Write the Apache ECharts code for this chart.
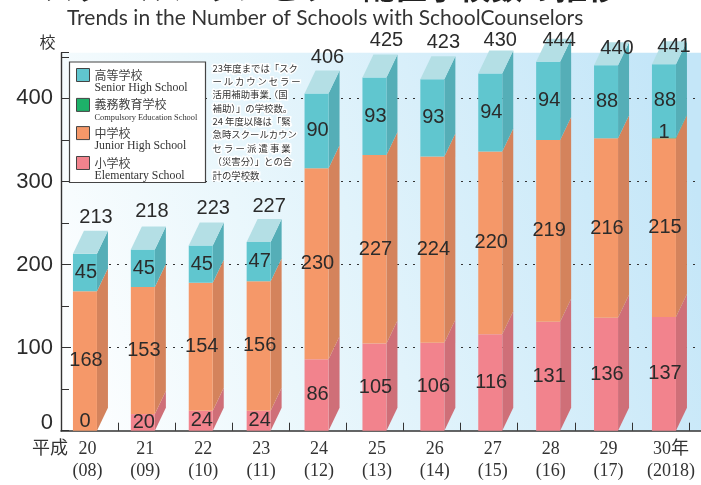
<!DOCTYPE html>
<html><head><meta charset="utf-8">
<style>html,body{margin:0;padding:0;background:#fff}#c{width:701px;height:485px}</style>
<script src="https://cdn.jsdelivr.net/npm/echarts@6/dist/echarts.min.js"></script>
</head><body><div id="c"></div>
<script>
const categories = ['20\n(08)','21\n(09)','22\n(10)','23\n(11)','24\n(12)','25\n(13)','26\n(14)','27\n(15)','28\n(16)','29\n(17)','30年\n(2018)'];
const elementary = [0,20,24,24,86,105,106,116,131,136,137];
const junior = [168,153,154,156,230,227,224,220,219,216,215];
const compulsory = [0,0,0,0,0,0,0,0,0,0,1];
const senior = [45,45,45,47,90,93,93,94,94,88,88];
const totals = [213,218,223,227,406,425,423,430,444,440,441];
const totalLift = [36,38,37,36,36,37,37,33,21,17,18];
const totalShift = [11,9,12.5,10.5,11,12,11,10,11,11,10];
const yMax = 455;
const depthX = 11, depthY = 23, barW = 24;
const FS = '"Liberation Sans",Arial,sans-serif';
const CJK = '"Noto Sans CJK JP",sans-serif';
const SERIF = '"Liberation Serif","Noto Sans CJK JP",serif';
const TXT = '#2b2b2b';

const stacks = [
 {name:'小学校', en:'Elementary School', vals:elementary, front:'#F2838D', side:'#CF6F78', zero:true},
 {name:'中学校', en:'Junior High School', vals:junior, front:'#F59869', side:'#D4835C'},
 {name:'義務教育学校', en:'Compulsory Education School', vals:compulsory, front:'#1DB169', side:'#179058', small:true},
 {name:'高等学校', en:'Senior High School', vals:senior, front:'#60C6CF', side:'#55AEB7', top:'#B4DFE5'}
];

function baseOf(si,i){let b=0;for(let k=0;k<si;k++)b+=stacks[k].vals[i];return b;}

function render(si){
  const st = stacks[si];
  return function(params, api){
    const i = api.value(0), v = api.value(1), b = baseOf(si,i);
    const c0 = api.coord([i,b]), c1 = api.coord([i,b+v]);
    const x0 = c0[0]-barW/2, x1 = c0[0]+barW/2;
    const kids = [];
    if(v>0){
      kids.push({type:'polygon',shape:{points:[[x1,c0[1]],[x1+depthX,c0[1]-depthY],[x1+depthX,c1[1]-depthY],[x1,c1[1]]]},style:{fill:st.side}});
      kids.push({type:'rect',shape:{x:x0,y:c1[1],width:barW,height:c0[1]-c1[1]},style:{fill:st.front}});
      if(st.top) kids.push({type:'polygon',shape:{points:[[x0,c1[1]],[x1,c1[1]],[x1+depthX,c1[1]-depthY],[x0+depthX,c1[1]-depthY]]},style:{fill:st.top}});
    }
    return {type:'group',children:kids};
  };
}

function renderLabels(params, api){
  const i = api.value(0), kids = [];
  const text = (x,y,t)=>({type:'text',style:{x:x,y:y,text:String(t),textAlign:'center',textVerticalAlign:'middle',fontFamily:FS,fontSize:20,fill:TXT}});
  stacks.forEach((st,si)=>{
    const v = st.vals[i], b = baseOf(si,i);
    if(v>0||st.zero){
      const c0 = api.coord([i,b]), c1 = api.coord([i,b+v]);
      const lift = v===0?9:(v===1?5:0);
      kids.push(text(c0[0]+(v<10?0:1),(c0[1]+c1[1])/2-lift,v));
    }
  });
  const t = api.coord([i,totals[i]]);
  kids.push(text(t[0]+totalShift[i],t[1]-totalLift[i],totals[i]));
  return {type:'group',children:kids};
}

const series = stacks.map((st,si)=>({
  type:'custom', name:st.name, coordinateSystem:'cartesian2d', xAxisIndex:0, yAxisIndex:0, z:2+si,
  itemStyle:{color:st.front}, encode:{x:0,y:1}, clip:false,
  renderItem:render(si), data:st.vals.map((v,i)=>[i,v])
}));
series.push({type:'custom',name:'labels',coordinateSystem:'cartesian2d',xAxisIndex:0,yAxisIndex:0,z:8,clip:false,silent:true,
  encode:{x:0,y:1},renderItem:renderLabels,data:totals.map((v,i)=>[i,v])});

const noteLines = ['23年度までは「スク','ー\u2009ル\u2009カ\u2009ウ\u2009ン\u2009セ\u2009ラ\u2009ー','活用補助事業（国','補助）」の学校数。','24 年度以降は「緊','急時スクールカウン','セ ラ ー 派 遣 事 業','（災害分）」との合','計の学校数'];
const titleJa = 'スクールカウンセラー配置学校数の推移';
const titleEn = 'Trends in the Number of Schools with SchoolCounselors';

const option = {
  animation:false,
  backgroundColor:'#fff',
  grid:[
    {left:56,width:636.9,top:52.7,bottom:54.3,show:false},
    {left:61,right:0,top:52.7,bottom:54.3,show:true,borderWidth:0,
     backgroundColor:new echarts.graphic.LinearGradient(0,1,1,0.4,[{offset:0,color:'#FFFFFF'},{offset:0.35,color:'#EAF7FC'},{offset:1,color:'#C4E6F8'}])}
  ],
  xAxis:[
    {type:'category',gridIndex:0,data:categories,axisLine:{show:false},axisTick:{show:false},
     axisLabel:{interval:0,margin:8,lineHeight:22,fontFamily:SERIF,fontSize:18,color:'#333',
       formatter:(v,i)=> { const p=v.split('\n'); const s=i===10?'l':'m'; return '{'+s+'|'+p[0]+'}\n{'+s+'|'+p[1]+'}'; },
       rich:{l:{fontFamily:SERIF,fontSize:18,color:'#333',lineHeight:22,padding:[0,0,0,14]},
             m:{fontFamily:SERIF,fontSize:18,color:'#333',lineHeight:22,padding:[0,0,0,5]}}}},
    {type:'value',gridIndex:1,min:0,max:11.21,interval:1,axisLine:{show:true,lineStyle:{color:'#333',width:1.6}},
     axisTick:{show:true,inside:true,length:8,lineStyle:{color:'#333',width:1}},axisLabel:{show:false},splitLine:{show:false}}
  ],
  yAxis:[
    {type:'value',gridIndex:0,min:0,max:yMax,show:false},
    {type:'value',gridIndex:1,min:0,max:yMax,interval:100,
     name:'校',nameLocation:'end',nameGap:3,nameTextStyle:{fontFamily:CJK,fontSize:16,color:'#333',padding:[0,27,0,0]},
     axisLine:{show:true,lineStyle:{color:'#333',width:1.4}},
     axisTick:{show:true,inside:true,length:8,lineStyle:{color:'#333',width:1}},
     minorTick:{show:true,splitNumber:2,length:8,lineStyle:{color:'#333',width:1}},
     axisLabel:{margin:8,fontFamily:FS,fontSize:22,color:TXT,showMaxLabel:false,
       formatter:v=> v===0 ? '{z|0}' : (v%100===0?String(v):''),
       rich:{z:{fontFamily:FS,fontSize:22,color:TXT,padding:[0,0,15,0]}}},
     splitLine:{show:true,showMinLine:false,showMaxLine:false,lineStyle:{color:'#333',width:1,type:[2,6]}}}
  ],
  legend:{
    show:true,orient:'vertical',left:76,top:56,padding:0,itemWidth:13,itemHeight:13,itemGap:-8,z:6,itemGap:-8,
    icon:'rect',selectedMode:false,
    data:[3,2,1,0].map(k=>({name:stacks[k].name,itemStyle:{color:stacks[k].front,borderColor:'#444',borderWidth:1}})),
    formatter:name=>{const s=stacks.find(t=>t.name===name);return '{e| }\n{a|'+s.name+'}\n'+(s.small?'{c|':'{b|')+s.en+'}';},
    textStyle:{rich:{
      e:{fontSize:6,lineHeight:12,height:12},
      a:{fontFamily:CJK,fontSize:12,lineHeight:14,color:'#444'},
      b:{fontFamily:SERIF,fontSize:11.8,lineHeight:12,color:'#333'},
      c:{fontFamily:SERIF,fontSize:8.4,lineHeight:12,color:'#333'}
    }}
  },
  graphic:[
    {type:'rect',z:1,shape:{x:69.5,y:62,width:136,height:120.5},style:{fill:'#fff',stroke:'#444',lineWidth:1.2}},
    {type:'text',z:1,style:{x:212.5,y:61.5,text:noteLines.join('\n'),lineHeight:13.35,fontFamily:CJK,fontSize:9.4,fill:'#333',stroke:'#fff',lineWidth:3,textVerticalAlign:'top'}},
    {type:'text',z:6,style:{x:331,y:-13,text:titleJa,fontFamily:CJK,fontSize:32,fontWeight:'bold',fill:'#222',textAlign:'center',textVerticalAlign:'middle'}},
    {type:'text',z:6,style:{x:67,y:18,text:titleEn,fontFamily:'Lato,sans-serif',fontSize:21,fill:'#333',textVerticalAlign:'middle'}},
    {type:'text',z:6,style:{x:32,y:447,text:'平成',fontFamily:CJK,fontSize:18,fill:'#333',textVerticalAlign:'middle'}}
  ],
  series:series
};
const chart = echarts.init(document.getElementById('c'),null,{renderer:'canvas'});
chart.setOption(option);
</script></body></html>
